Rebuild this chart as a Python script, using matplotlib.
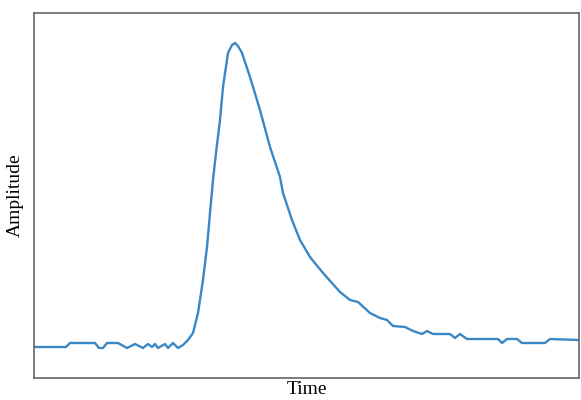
import matplotlib.pyplot as plt

time = [0, 32, 36, 61, 65, 69, 73, 84, 93, 101, 109, 114, 118, 121, 124, 131, 134, 139,
        144, 149, 154, 159, 164, 169, 173, 176, 179, 182, 186, 189, 194, 198, 201,
        204, 208, 216, 226, 236, 246, 249, 258, 266, 276, 289, 306, 316, 324, 336, 346,
        353, 359, 371, 379, 388, 393, 399, 416, 421, 426, 433, 464, 468, 473, 483, 488,
        511, 516, 545]
amplitude = [31, 31, 35, 35, 30, 30, 35, 35, 30, 34, 30, 34, 31, 34, 30, 34, 30, 35,
             30, 33, 38, 45, 65, 98, 131, 165, 198, 225, 258, 291, 325, 333, 335,
             332, 325, 301, 268, 231, 201, 185, 158, 138, 121, 105, 86, 78, 76, 65, 60,
             58, 52, 51, 47, 44, 47, 44, 44, 40, 44, 39, 39, 35, 39, 39, 35, 35, 39, 38]

plt.rcParams["font.family"] = ["Liberation Serif", "DejaVu Serif"]

fig = plt.figure(figsize=(5.81, 4.0), dpi=100)
ax = fig.add_axes([34 / 581, 22 / 400, 545 / 581, 365 / 400])

ax.plot(time, amplitude, color="#3a87c6", linewidth=1.7)

ax.set_xlim(time[0], time[-1])
ax.set_ylim(0, 365)
ax.set_xticks([])
ax.set_yticks([])
for spine in ax.spines.values():
    spine.set_color("#666666")
    spine.set_linewidth(1.2)

ax.set_xlabel("Time", fontsize=14, labelpad=2)
ax.set_ylabel("Amplitude", fontsize=14, labelpad=7)

fig.savefig("out.png", dpi=100)
